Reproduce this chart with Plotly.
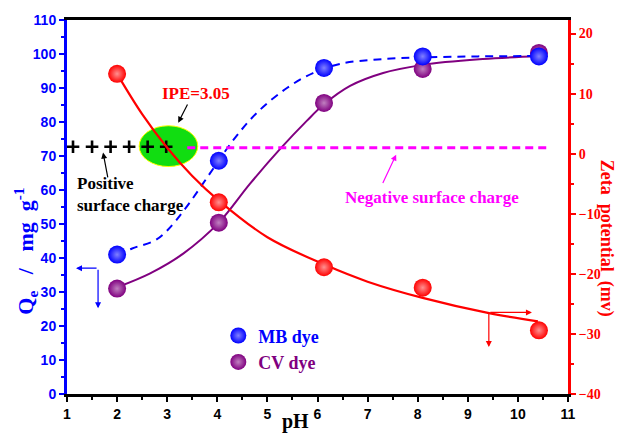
import plotly.graph_objects as go

# ---------------- data ----------------
ph_points = [2.0, 4.03, 6.13, 8.1, 10.42]
mb_q = [41.0, 68.6, 95.9, 99.3, 99.3]
cv_q = [31.0, 50.4, 85.6, 95.6, 100.3]
zeta_mv = [13.3, -8.1, -18.9, -22.3, -29.4]

# fitted curves as drawn in the reference
mb_curve_ph = [2.0, 2.3, 2.76, 3.0, 3.36, 3.85, 4.31, 4.79, 5.39, 5.91, 6.45, 7.2, 8.1, 9.2, 10.42]
mb_curve_q = [40.9, 42.8, 45.2, 48.1, 54.5, 64.8, 74.5, 82.7, 90.0, 94.4, 97.1, 98.4, 99.0, 99.3, 99.4]
cv_curve_ph = [2.0, 2.66, 3.32, 4.03, 4.65, 5.25, 5.79, 6.13, 6.65, 7.31, 8.1, 9.3, 10.42]
cv_curve_q = [31.4, 35.5, 41.3, 50.4, 61.8, 72.0, 80.4, 85.2, 90.6, 94.4, 96.8, 98.5, 99.4]
zeta_curve_ph = [2.0, 2.5, 3.0, 3.5, 4.03, 5.0, 6.15, 7.0, 8.1, 9.4, 10.4]
zeta_curve_mv = [13.3, 6.6, 1.0, -3.7, -7.8, -13.9, -18.5, -21.3, -24.0, -26.5, -27.9]

plus_ph = [1.12, 1.5, 1.87, 2.24, 2.61, 2.98]
plus_q = [72.7] * 6

x_ticks = list(range(1, 12))
y_ticks = list(range(0, 111, 10))
y2_ticks = list(range(-40, 21, 10))

SERIF = "Liberation Serif"
SANS = "Liberation Sans"
BLUE = "#0000FF"
PURPLE = "#800080"
RED = "#FF0000"
MAGENTA = "#FF00FF"
SP = "&nbsp;"

fig = go.Figure()

# ellipse (IPE marker)
fig.add_shape(type="circle", xref="x", yref="y", x0=2.44, x1=3.61, y0=66.9, y1=78.9,
              fillcolor="#11DD11", line=dict(color="#FFFF00", width=1), layer="below")
# magenta dashed zero-charge line
fig.add_shape(type="line", xref="x", yref="y", x0=3.4, x1=10.6, y0=72.4, y1=72.4,
              line=dict(color=MAGENTA, width=3, dash="8px,5px"))

# curves
fig.add_trace(go.Scatter(x=cv_curve_ph, y=cv_curve_q, mode="lines", line=dict(color=PURPLE, width=2, shape="spline"),
                         showlegend=False, hoverinfo="skip"))
fig.add_trace(go.Scatter(x=mb_curve_ph, y=mb_curve_q, mode="lines",
                         line=dict(color=BLUE, width=2, shape="spline", dash="8px,6px"),
                         showlegend=False, hoverinfo="skip"))
fig.add_trace(go.Scatter(x=zeta_curve_ph, y=zeta_curve_mv, mode="lines", yaxis="y2",
                         line=dict(color=RED, width=2.2, shape="spline"), showlegend=False, hoverinfo="skip"))

# points
fig.add_trace(go.Scatter(x=ph_points, y=cv_q, mode="markers", name="<span style='color:#800080'>CV dye</span>",
                         legendrank=2,
                         marker=dict(size=18, color=PURPLE, gradient=dict(type="radial", color="#C080C0"))))
fig.add_trace(go.Scatter(x=ph_points, y=mb_q, mode="markers", name="<span style='color:#0000FF'>MB dye</span>",
                         legendrank=1,
                         marker=dict(size=18, color=BLUE, gradient=dict(type="radial", color="#8080FF"))))
fig.add_trace(go.Scatter(x=ph_points, y=zeta_mv, mode="markers", yaxis="y2", showlegend=False,
                         marker=dict(size=18, color=RED, gradient=dict(type="radial", color="#FF9090"))))

# plus signs
fig.add_trace(go.Scatter(x=plus_ph, y=plus_q, mode="markers", showlegend=False,
                         marker=dict(symbol="cross-thin", size=9, line=dict(color="black", width=2.6))))

ann = []
def arrow(xh, yh, xt, yt, color, size=1.0):
    ann.append(dict(x=xh, y=yh, ax=xt, ay=yt, xref="x", yref="y", axref="x", ayref="y", text="",
                    showarrow=True, arrowhead=2, arrowsize=size, arrowwidth=1.2, arrowcolor=color,
                    standoff=0, startstandoff=0))

arrow(3.22, 79.8, 3.42, 85.6, "black")
arrow(1.72, 71.0, 1.82, 63.3, "black")
arrow(7.57, 70.4, 7.29, 61.6, MAGENTA)
arrow(1.18, 37.0, 1.62, 37.0, BLUE)
arrow(1.62, 25.2, 1.62, 37.0, BLUE)
arrow(10.28, 24.0, 9.42, 24.0, RED)
arrow(9.42, 13.8, 9.42, 24.0, RED)

ann.append(dict(x=3.57, y=88.3, xref="x", yref="y", text="IPE=3.05", showarrow=False,
                font=dict(family=SERIF, size=17, color=RED, weight="bold")))
ann.append(dict(x=1.16, y=58.6, xref="x", yref="y", text="Positive<br>surface charge", showarrow=False,
                xanchor="left", align="left", font=dict(family=SERIF, size=17, color="black", weight="bold")))
ann.append(dict(x=6.51, y=57.8, xref="x", yref="y", text="Negative surface charge", showarrow=False,
                xanchor="left", font=dict(family=SERIF, size=17, color=MAGENTA, weight="bold")))

# axis titles
ann.append(dict(x=0.457, y=-0.074, xref="paper", yref="paper", text="pH", showarrow=False,
                xanchor="center", yanchor="middle",
                font=dict(family=SERIF, size=20, color="black", weight="bold")))
ann.append(dict(x=-0.082, y=0.383, xref="paper", yref="paper",
                text="Q<sub>e</sub>" + SP * 3 + "/" + SP * 3 + "mg" + SP * 2 + "g<sup>-1</sup>",
                xanchor="center", yanchor="middle",
                showarrow=False, textangle=-90, font=dict(family=SERIF, size=22, color=BLUE, weight="bold")))
ann.append(dict(x=1.0758, y=0.415, xref="paper", yref="paper",
                text="Zeta" + SP * 2 + "potential" + SP * 2 + "(mv)",
                xanchor="center", yanchor="middle",
                showarrow=False, textangle=90, font=dict(family=SERIF, size=18, color=RED, weight="bold")))

fig.update_layout(
    width=618, height=435, autosize=False,
    margin=dict(l=67, r=50, t=18, b=41),
    plot_bgcolor="white", paper_bgcolor="white",
    annotations=ann,
    showlegend=True,
    legend=dict(x=0.302, y=0.205, xanchor="left", yanchor="top", bgcolor="rgba(0,0,0,0)",
                font=dict(family=SERIF, size=18, weight="bold"), tracegroupgap=0),
    xaxis=dict(range=[1, 11], tickvals=x_ticks, ticks="outside", ticklen=5, tickwidth=2, tickcolor="black",
               showline=True, linewidth=3, linecolor="black", mirror=True, showgrid=False, zeroline=False,
               tickfont=dict(family=SANS, size=14, color="black", weight="bold"),
               minor=dict(dtick=0.5, ticks="outside", ticklen=3, tickwidth=2, tickcolor="black")),
    yaxis=dict(range=[0, 110], tickvals=y_ticks, ticks="outside", ticklen=5, tickwidth=2, tickcolor=BLUE,
               showline=True, linewidth=3, linecolor=BLUE, showgrid=False, zeroline=False,
               tickfont=dict(family=SANS, size=14, color=BLUE, weight="bold"),
               minor=dict(dtick=5, ticks="outside", ticklen=3, tickwidth=2, tickcolor=BLUE)),
    yaxis2=dict(range=[-40, 22.26], tickvals=y2_ticks, overlaying="y", side="right", anchor="x",
                ticks="outside", ticklen=5, tickwidth=2, tickcolor=RED,
                showline=True, linewidth=3, linecolor=RED, showgrid=False, zeroline=False,
                tickfont=dict(family=SERIF, size=14, color=RED, weight="bold"),
                minor=dict(dtick=5, ticks="outside", ticklen=3, tickwidth=2, tickcolor=RED)),
)

fig.write_html("out.html")
